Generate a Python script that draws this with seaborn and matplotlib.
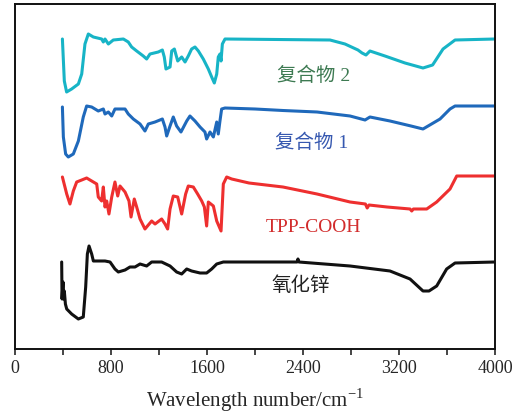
import numpy as np
import pandas as pd
import seaborn as sns
import matplotlib.pyplot as plt

# FTIR spectra (wavenumber in cm-1, stacked transmittance in a.u.)
wn_c2 = [395, 411, 430, 472, 528, 556, 583, 611, 653, 722, 736, 750, 778, 819, 903, 944, 972,
         1014, 1069, 1097, 1125, 1194, 1228, 1244, 1258, 1292, 1306, 1328, 1356, 1389, 1417,
         1444, 1472, 1500, 1528, 1569, 1611, 1639, 1661, 1681, 1694, 1708, 1717, 1728, 1750,
         2625, 2750, 2858, 2892, 2925, 2958, 3083, 3250, 3400, 3480, 3567, 3667, 4000]
py_c2 = [40, 82, 93, 90, 85, 75, 45, 35, 38, 40, 43, 40, 45, 41, 40, 43, 48,
         52, 57, 60, 55, 53, 51, 58, 70, 68, 52, 50, 62, 58, 63,
         57, 50, 48, 52, 60, 70, 78, 84, 75, 58, 55, 62, 45, 40,
         41, 45, 51, 54, 56, 52, 57, 64, 69, 66, 50, 41, 40]

wn_c1 = [395, 403, 422, 444, 486, 528, 569, 597, 639, 694, 736, 750, 778, 806, 833, 917, 944,
         986, 1042, 1083, 1111, 1167, 1228, 1250, 1264, 1292, 1319, 1347, 1383, 1431, 1458,
         1500, 1542, 1583, 1597, 1625, 1653, 1681, 1694, 1708, 1722, 1750,
         2000, 2233, 2517, 2792, 2917, 2958, 3125, 3300, 3400, 3542, 3625, 3667, 4000]
py_c1 = [108, 138, 155, 158, 155, 142, 118, 107, 108, 112, 110, 115, 113, 117, 110, 110, 115,
         120, 125, 132, 125, 123, 120, 128, 137, 127, 118, 127, 133, 122, 117,
         122, 128, 133, 140, 133, 138, 123, 135, 122, 110, 109,
         110, 111.5, 113, 117, 121, 118, 122, 127, 130, 120, 110, 107, 107]

wn_tpp = [395, 431, 458, 486, 514, 556, 597, 639, 681, 694, 722, 736, 750, 764, 783, 806, 833,
          856, 875, 917, 950, 967, 994, 1014, 1042, 1083, 1139, 1167, 1222, 1250, 1272, 1292,
          1319, 1356, 1389, 1422, 1444, 1486, 1522, 1556, 1578, 1597, 1611, 1653, 1681, 1717,
          1736, 1764, 1806, 1950, 2233, 2517, 2792, 2920, 2935, 2950, 3100, 3292, 3306, 3320,
          3431, 3514, 3625, 3681, 4000]
py_tpp = [178, 195, 205, 192, 183, 181, 179, 182, 185, 198, 202, 188, 208, 202, 215, 198, 183,
          197, 187, 193, 202, 218, 200, 208, 220, 230, 222, 225, 220, 225, 230, 210,
          197, 198, 215, 195, 187, 188, 195, 202, 208, 227, 203, 207, 222, 232,
          185, 178, 180, 184, 188, 195, 203, 205, 209, 206, 208, 210, 212, 210,
          210, 203, 190, 177, 177]

wn_zno = [389, 392, 400, 405, 411, 420, 431, 472, 528, 569, 589, 603, 617, 639, 653, 750, 792,
          833, 861, 917, 958, 1000, 1042, 1097, 1139, 1222, 1292, 1347, 1389, 1431, 1472, 1542,
          1597, 1639, 1681, 1736, 1833, 2350, 2358, 2366, 2792, 3125, 3292, 3400, 3450, 3514,
          3597, 3667, 4000]
py_zno = [263, 300, 283, 300, 292, 305, 310, 315, 320, 318, 288, 255, 247, 255, 262, 262, 263,
          270, 273, 271, 268, 268, 265, 267, 263, 263, 267, 273, 275, 270, 272, 274,
          274, 270, 265, 263, 263, 263, 260, 263, 267, 272, 280, 292, 292, 287,
          270, 264, 263]

names = ["复合物 2", "复合物 1", "TPP-COOH", "氧化锌"]
line_colors = ["#17b4c6", "#1f69bb", "#ee2f2f", "#111111"]
text_colors = ["#3d7a52", "#3658b0", "#d22c2c", "#222222"]
label_x = [2180, 2165, 2085, 2140]
label_py = [76, 143, 228, 286]

frames = []
for name, wn, py in zip(names, [wn_c2, wn_c1, wn_tpp, wn_zno], [py_c2, py_c1, py_tpp, py_zno]):
    frames.append(pd.DataFrame({"wn": wn, "T": 350 - np.array(py, dtype=float), "sample": name}))
df = pd.concat(frames, ignore_index=True)

sns.set_style("ticks")
plt.rcParams["font.family"] = ["Liberation Serif", "Noto Sans CJK SC"]

fig = plt.figure(figsize=(5.22, 4.14), dpi=100)
ax = fig.add_axes([15 / 522, 64 / 414, 480 / 522, 345 / 414])

sns.lineplot(data=df, x="wn", y="T", hue="sample", palette=line_colors, hue_order=names,
             estimator=None, sort=False, linewidth=2.2, legend=False, ax=ax)
for line in ax.get_lines():
    line.set_solid_joinstyle("round")
    line.set_solid_capstyle("round")

for name, lx, lp, c in zip(names, label_x, label_py, text_colors):
    ax.text(lx, 350 - lp, name, color=c, fontsize=14, ha="left", va="center")

ax.set_xlim(0, 4000)
ax.set_ylim(0, 345)
ax.set_xticks([0, 800, 1600, 2400, 3200, 4000])
ax.set_xticks([400, 1200, 2000, 2800, 3600], minor=True)
ax.set_yticks([])
ax.set_ylabel("")
ax.set_xlabel("Wavelength number/cm$^{\\mathregular{-1}}$", fontsize=15, labelpad=7)
ax.tick_params(axis="x", which="major", direction="out", length=4, width=1.2, labelsize=13, pad=3)
ax.tick_params(axis="x", which="minor", direction="out", length=4, width=1.2)
for s in ax.spines.values():
    s.set_linewidth(1.4)
    s.set_color("#111111")

fig.savefig("out.png", dpi=100)
